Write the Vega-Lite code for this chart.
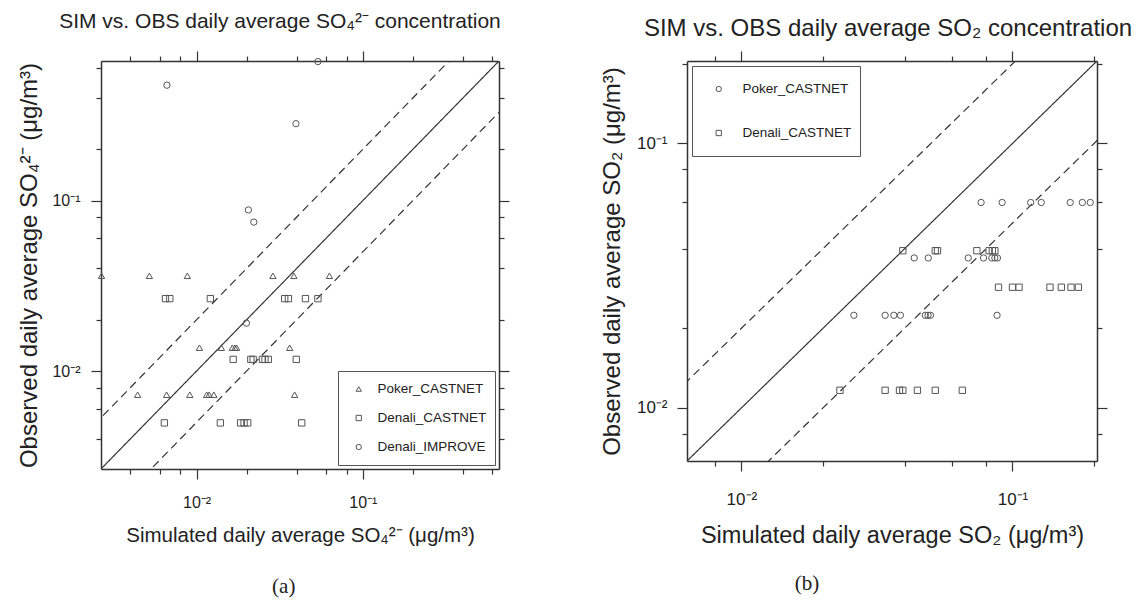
{
  "$schema": "https://vega.github.io/schema/vega-lite/v6.json",
  "background": "white",
  "padding": {"left": 17, "top": 11, "right": 5, "bottom": 5},
  "config": {
    "font": "Liberation Sans",
    "view": {"stroke": null},
    "axis": {
      "domainColor": "#333", "domainWidth": 1.5, "tickColor": "#333", "tickWidth": 1.2,
      "labelColor": "#222", "titleColor": "#222", "grid": false,
      "labelFont": "Liberation Sans", "titleFont": "Liberation Sans", "titleFontWeight": "normal"
    },
    "title": {"fontWeight": "normal", "color": "#222", "font": "Liberation Sans"},
    "legend": {"titleFontWeight": "normal", "labelColor": "#222", "labelFont": "Liberation Sans"}
  },
  "datasets": {
    "lines": [
      {"line": "1:1", "x": 0.001, "y": 0.001}, {"line": "1:1", "x": 1, "y": 1},
      {"line": "2:1", "x": 0.001, "y": 0.002}, {"line": "2:1", "x": 0.5, "y": 1},
      {"line": "1:2", "x": 0.002, "y": 0.001}, {"line": "1:2", "x": 1, "y": 0.5}
    ],
    "so4": [
      {"site": "Poker_CASTNET", "sim": 0.00268, "obs": 0.0362},
      {"site": "Poker_CASTNET", "sim": 0.0052, "obs": 0.0362},
      {"site": "Poker_CASTNET", "sim": 0.0088, "obs": 0.0362},
      {"site": "Poker_CASTNET", "sim": 0.0288, "obs": 0.0362},
      {"site": "Poker_CASTNET", "sim": 0.0385, "obs": 0.0362},
      {"site": "Poker_CASTNET", "sim": 0.063, "obs": 0.0362},
      {"site": "Poker_CASTNET", "sim": 0.0104, "obs": 0.0137},
      {"site": "Poker_CASTNET", "sim": 0.0141, "obs": 0.0137},
      {"site": "Poker_CASTNET", "sim": 0.0164, "obs": 0.0137},
      {"site": "Poker_CASTNET", "sim": 0.017, "obs": 0.0137},
      {"site": "Poker_CASTNET", "sim": 0.0174, "obs": 0.0137},
      {"site": "Poker_CASTNET", "sim": 0.0363, "obs": 0.0137},
      {"site": "Poker_CASTNET", "sim": 0.00442, "obs": 0.00726},
      {"site": "Poker_CASTNET", "sim": 0.0066, "obs": 0.00726},
      {"site": "Poker_CASTNET", "sim": 0.0091, "obs": 0.00726},
      {"site": "Poker_CASTNET", "sim": 0.0115, "obs": 0.00726},
      {"site": "Poker_CASTNET", "sim": 0.0119, "obs": 0.00726},
      {"site": "Poker_CASTNET", "sim": 0.0127, "obs": 0.00726},
      {"site": "Poker_CASTNET", "sim": 0.0389, "obs": 0.00726},
      {"site": "Denali_CASTNET", "sim": 0.0065, "obs": 0.0266},
      {"site": "Denali_CASTNET", "sim": 0.0069, "obs": 0.0266},
      {"site": "Denali_CASTNET", "sim": 0.0121, "obs": 0.0266},
      {"site": "Denali_CASTNET", "sim": 0.0339, "obs": 0.0266},
      {"site": "Denali_CASTNET", "sim": 0.0357, "obs": 0.0266},
      {"site": "Denali_CASTNET", "sim": 0.0452, "obs": 0.0266},
      {"site": "Denali_CASTNET", "sim": 0.0537, "obs": 0.0266},
      {"site": "Denali_CASTNET", "sim": 0.0166, "obs": 0.0117},
      {"site": "Denali_CASTNET", "sim": 0.0212, "obs": 0.0117},
      {"site": "Denali_CASTNET", "sim": 0.0219, "obs": 0.0117},
      {"site": "Denali_CASTNET", "sim": 0.0249, "obs": 0.0117},
      {"site": "Denali_CASTNET", "sim": 0.0258, "obs": 0.0117},
      {"site": "Denali_CASTNET", "sim": 0.027, "obs": 0.0117},
      {"site": "Denali_CASTNET", "sim": 0.0398, "obs": 0.0117},
      {"site": "Denali_CASTNET", "sim": 0.0064, "obs": 0.00496},
      {"site": "Denali_CASTNET", "sim": 0.0139, "obs": 0.00496},
      {"site": "Denali_CASTNET", "sim": 0.0184, "obs": 0.00496},
      {"site": "Denali_CASTNET", "sim": 0.0193, "obs": 0.00496},
      {"site": "Denali_CASTNET", "sim": 0.0203, "obs": 0.00496},
      {"site": "Denali_CASTNET", "sim": 0.0429, "obs": 0.00496},
      {"site": "Denali_IMPROVE", "sim": 0.00663, "obs": 0.476},
      {"site": "Denali_IMPROVE", "sim": 0.0396, "obs": 0.283},
      {"site": "Denali_IMPROVE", "sim": 0.0205, "obs": 0.0882},
      {"site": "Denali_IMPROVE", "sim": 0.0221, "obs": 0.0748},
      {"site": "Denali_IMPROVE", "sim": 0.0537, "obs": 0.655},
      {"site": "Denali_IMPROVE", "sim": 0.01995, "obs": 0.0191}
    ],
    "so2": [
      {"site": "Poker_CASTNET", "sim": 0.0766, "obs": 0.0598},
      {"site": "Poker_CASTNET", "sim": 0.0916, "obs": 0.0598},
      {"site": "Poker_CASTNET", "sim": 0.1167, "obs": 0.0598},
      {"site": "Poker_CASTNET", "sim": 0.1277, "obs": 0.0598},
      {"site": "Poker_CASTNET", "sim": 0.1633, "obs": 0.0598},
      {"site": "Poker_CASTNET", "sim": 0.181, "obs": 0.0598},
      {"site": "Poker_CASTNET", "sim": 0.1936, "obs": 0.0598},
      {"site": "Poker_CASTNET", "sim": 0.0434, "obs": 0.0369},
      {"site": "Poker_CASTNET", "sim": 0.0489, "obs": 0.0369},
      {"site": "Poker_CASTNET", "sim": 0.0687, "obs": 0.0369},
      {"site": "Poker_CASTNET", "sim": 0.0782, "obs": 0.0369},
      {"site": "Poker_CASTNET", "sim": 0.0839, "obs": 0.0369},
      {"site": "Poker_CASTNET", "sim": 0.0861, "obs": 0.0369},
      {"site": "Poker_CASTNET", "sim": 0.088, "obs": 0.0369},
      {"site": "Poker_CASTNET", "sim": 0.026, "obs": 0.0224},
      {"site": "Poker_CASTNET", "sim": 0.0339, "obs": 0.0224},
      {"site": "Poker_CASTNET", "sim": 0.0365, "obs": 0.0224},
      {"site": "Poker_CASTNET", "sim": 0.0386, "obs": 0.0224},
      {"site": "Poker_CASTNET", "sim": 0.0477, "obs": 0.0224},
      {"site": "Poker_CASTNET", "sim": 0.0488, "obs": 0.0224},
      {"site": "Poker_CASTNET", "sim": 0.0498, "obs": 0.0224},
      {"site": "Poker_CASTNET", "sim": 0.0877, "obs": 0.0224},
      {"site": "Denali_CASTNET", "sim": 0.0394, "obs": 0.0393},
      {"site": "Denali_CASTNET", "sim": 0.0519, "obs": 0.0393},
      {"site": "Denali_CASTNET", "sim": 0.0529, "obs": 0.0393},
      {"site": "Denali_CASTNET", "sim": 0.0739, "obs": 0.0393},
      {"site": "Denali_CASTNET", "sim": 0.082, "obs": 0.0393},
      {"site": "Denali_CASTNET", "sim": 0.0843, "obs": 0.0393},
      {"site": "Denali_CASTNET", "sim": 0.0861, "obs": 0.0393},
      {"site": "Denali_CASTNET", "sim": 0.0888, "obs": 0.0286},
      {"site": "Denali_CASTNET", "sim": 0.1, "obs": 0.0286},
      {"site": "Denali_CASTNET", "sim": 0.1057, "obs": 0.0286},
      {"site": "Denali_CASTNET", "sim": 0.1375, "obs": 0.0286},
      {"site": "Denali_CASTNET", "sim": 0.1514, "obs": 0.0286},
      {"site": "Denali_CASTNET", "sim": 0.1644, "obs": 0.0286},
      {"site": "Denali_CASTNET", "sim": 0.175, "obs": 0.0286},
      {"site": "Denali_CASTNET", "sim": 0.0231, "obs": 0.01166},
      {"site": "Denali_CASTNET", "sim": 0.0339, "obs": 0.01166},
      {"site": "Denali_CASTNET", "sim": 0.0383, "obs": 0.01166},
      {"site": "Denali_CASTNET", "sim": 0.0394, "obs": 0.01166},
      {"site": "Denali_CASTNET", "sim": 0.0446, "obs": 0.01166},
      {"site": "Denali_CASTNET", "sim": 0.0519, "obs": 0.01166},
      {"site": "Denali_CASTNET", "sim": 0.0653, "obs": 0.01166}
    ]
  },
  "spacing": 90,
  "resolve": {
    "scale": {"x": "independent", "y": "independent", "shape": "independent", "strokeDash": "independent"},
    "legend": {"shape": "independent"}
  },
  "hconcat": [
    {
      "title": {"text": "(a)", "orient": "bottom", "anchor": "middle", "font": "Liberation Serif", "fontSize": 21, "offset": 30, "dx": 20},
      "resolve": {"scale": {"shape": "independent"}, "legend": {"shape": "independent"}},
      "vconcat": [
        {
          "title": {"text": "SIM vs. OBS daily average  SO₄²⁻ concentration", "fontSize": 21, "offset": 18, "dx": -20},
          "width": 398,
          "height": 408,
          "resolve": {"axis": {"x": "independent", "y": "independent"}},
          "layer": [
            {
              "data": {"name": "lines"},
              "mark": {"type": "line", "clip": true, "color": "#333", "strokeWidth": 1.2},
              "encoding": {
                "x": {"field": "x", "type": "quantitative",
                  "scale": {"type": "log", "domain": [0.00266, 0.66], "nice": false, "zero": false},
                  "axis": {"orient": "bottom", "values": [0.004, 0.006, 0.008, 0.01, 0.02, 0.04, 0.06, 0.08, 0.1, 0.2, 0.4, 0.6],
                    "labelExpr": "abs(datum.value-0.01)<1e-9 ? '10⁻²' : (abs(datum.value-0.1)<1e-9 ? '10⁻¹' : '')",
                    "tickSize": {"condition": {"test": "abs(datum.value-0.01)<1e-9 || abs(datum.value-0.1)<1e-9", "value": 10}, "value": 5},
                    "labelFontSize": 16, "labelPadding": 15, "labelFlush": false, "labelOverlap": false,
                    "title": "Simulated daily average SO₄²⁻ (μg/m³)", "titleFontSize": 20.5, "titlePadding": 15}},
                "y": {"field": "y", "type": "quantitative",
                  "scale": {"type": "log", "domain": [0.00266, 0.66], "nice": false, "zero": false},
                  "axis": {"orient": "left", "values": [0.004, 0.006, 0.008, 0.01, 0.02, 0.04, 0.06, 0.08, 0.1, 0.2, 0.4, 0.6],
                    "labelExpr": "abs(datum.value-0.01)<1e-9 ? '10⁻²' : (abs(datum.value-0.1)<1e-9 ? '10⁻¹' : '')",
                    "tickSize": {"condition": {"test": "abs(datum.value-0.01)<1e-9 || abs(datum.value-0.1)<1e-9", "value": 10}, "value": 5},
                    "labelFontSize": 16, "labelPadding": 11, "labelFlush": false, "labelOverlap": false,
                    "title": "Observed daily average SO₄²⁻ (μg/m³)", "titleFontSize": 24, "titlePadding": 10}},
                "strokeDash": {"field": "line", "type": "nominal",
                  "scale": {"domain": ["1:1", "2:1", "1:2"], "range": [[1, 0], [8, 5], [8, 5]]}, "legend": null}
              }
            },
            {
              "data": {"name": "so4"},
              "mark": {"type": "point", "filled": false, "size": 40, "color": "#555", "strokeWidth": 1, "opacity": 1},
              "encoding": {
                "x": {"field": "sim", "type": "quantitative",
                  "axis": {"orient": "top", "values": [0.004, 0.006, 0.008, 0.01, 0.02, 0.04, 0.06, 0.08, 0.1, 0.2, 0.4, 0.6],
                    "labels": false, "title": null,
                    "tickSize": {"condition": {"test": "abs(datum.value-0.01)<1e-9 || abs(datum.value-0.1)<1e-9", "value": 10}, "value": 5}}},
                "y": {"field": "obs", "type": "quantitative",
                  "axis": {"orient": "right", "values": [0.004, 0.006, 0.008, 0.01, 0.02, 0.04, 0.06, 0.08, 0.1, 0.2, 0.4, 0.6],
                    "labels": false, "title": null,
                    "tickSize": {"condition": {"test": "abs(datum.value-0.01)<1e-9 || abs(datum.value-0.1)<1e-9", "value": 10}, "value": 5}}},
                "shape": {"field": "site", "type": "nominal",
                  "scale": {"domain": ["Poker_CASTNET", "Denali_CASTNET", "Denali_IMPROVE"], "range": ["triangle-up", "square", "circle"]},
                  "legend": {"title": null, "orient": "bottom-right", "offset": 4, "strokeColor": "#555", "fillColor": "white",
                    "padding": 8, "labelFontSize": 13.5, "symbolSize": 28, "symbolStrokeColor": "#555", "symbolStrokeWidth": 1,
                    "symbolFillColor": "transparent", "rowPadding": 9, "clipHeight": 20, "labelOffset": 12, "symbolOffset": 6}}
              }
            }
          ]
        }
      ]
    },
    {
      "title": {"text": "(b)", "orient": "bottom", "anchor": "middle", "font": "Liberation Serif", "fontSize": 21, "offset": 26, "dx": -61},
      "resolve": {"scale": {"shape": "independent"}, "legend": {"shape": "independent"}},
      "vconcat": [
        {
          "title": {"text": "SIM vs. OBS daily average  SO₂ concentration", "fontSize": 24, "offset": 9, "dx": -4},
          "width": 410,
          "height": 400,
          "resolve": {"axis": {"x": "independent", "y": "independent"}},
          "layer": [
            {
              "data": {"name": "lines"},
              "mark": {"type": "line", "clip": true, "color": "#333", "strokeWidth": 1.2},
              "encoding": {
                "x": {"field": "x", "type": "quantitative",
                  "scale": {"type": "log", "domain": [0.0063, 0.205], "nice": false, "zero": false},
                  "axis": {"orient": "bottom", "values": [0.008, 0.01, 0.02, 0.04, 0.06, 0.08, 0.1, 0.2],
                    "labelExpr": "abs(datum.value-0.01)<1e-9 ? '10⁻²' : (abs(datum.value-0.1)<1e-9 ? '10⁻¹' : '')",
                    "tickSize": {"condition": {"test": "abs(datum.value-0.01)<1e-9 || abs(datum.value-0.1)<1e-9", "value": 10}, "value": 5},
                    "labelFontSize": 17, "labelPadding": 20, "labelFlush": false, "labelOverlap": false,
                    "title": "Simulated daily average SO₂ (μg/m³)", "titleFontSize": 23.5, "titlePadding": 16}},
                "y": {"field": "y", "type": "quantitative",
                  "scale": {"type": "log", "domain": [0.0063, 0.205], "nice": false, "zero": false},
                  "axis": {"orient": "left", "values": [0.008, 0.01, 0.02, 0.04, 0.06, 0.08, 0.1, 0.2],
                    "labelExpr": "abs(datum.value-0.01)<1e-9 ? '10⁻²' : (abs(datum.value-0.1)<1e-9 ? '10⁻¹' : '')",
                    "tickSize": {"condition": {"test": "abs(datum.value-0.01)<1e-9 || abs(datum.value-0.1)<1e-9", "value": 10}, "value": 5},
                    "labelFontSize": 17, "labelPadding": 10, "labelFlush": false, "labelOverlap": false,
                    "title": "Observed daily average SO₂ (μg/m³)", "titleFontSize": 24, "titlePadding": 12}},
                "strokeDash": {"field": "line", "type": "nominal",
                  "scale": {"domain": ["1:1", "2:1", "1:2"], "range": [[1, 0], [8, 5], [8, 5]]}, "legend": null}
              }
            },
            {
              "data": {"name": "so2"},
              "mark": {"type": "point", "filled": false, "size": 40, "color": "#555", "strokeWidth": 1, "opacity": 1},
              "encoding": {
                "x": {"field": "sim", "type": "quantitative",
                  "axis": {"orient": "top", "values": [0.008, 0.01, 0.02, 0.04, 0.06, 0.08, 0.1, 0.2],
                    "labels": false, "title": null,
                    "tickSize": {"condition": {"test": "abs(datum.value-0.01)<1e-9 || abs(datum.value-0.1)<1e-9", "value": 10}, "value": 5}}},
                "y": {"field": "obs", "type": "quantitative",
                  "axis": {"orient": "right", "values": [0.008, 0.01, 0.02, 0.04, 0.06, 0.08, 0.1, 0.2],
                    "labels": false, "title": null,
                    "tickSize": {"condition": {"test": "abs(datum.value-0.01)<1e-9 || abs(datum.value-0.1)<1e-9", "value": 10}, "value": 5}}},
                "shape": {"field": "site", "type": "nominal",
                  "scale": {"domain": ["Poker_CASTNET", "Denali_CASTNET"], "range": ["circle", "square"]},
                  "legend": {"title": null, "orient": "top-left", "offset": 5, "strokeColor": "#555", "fillColor": "white",
                    "padding": 8, "labelFontSize": 13.5, "symbolSize": 28, "symbolStrokeColor": "#555", "symbolStrokeWidth": 1,
                    "symbolFillColor": "transparent", "rowPadding": 14, "clipHeight": 30, "labelOffset": 17, "symbolOffset": 12}}
              }
            }
          ]
        }
      ]
    }
  ]
}
